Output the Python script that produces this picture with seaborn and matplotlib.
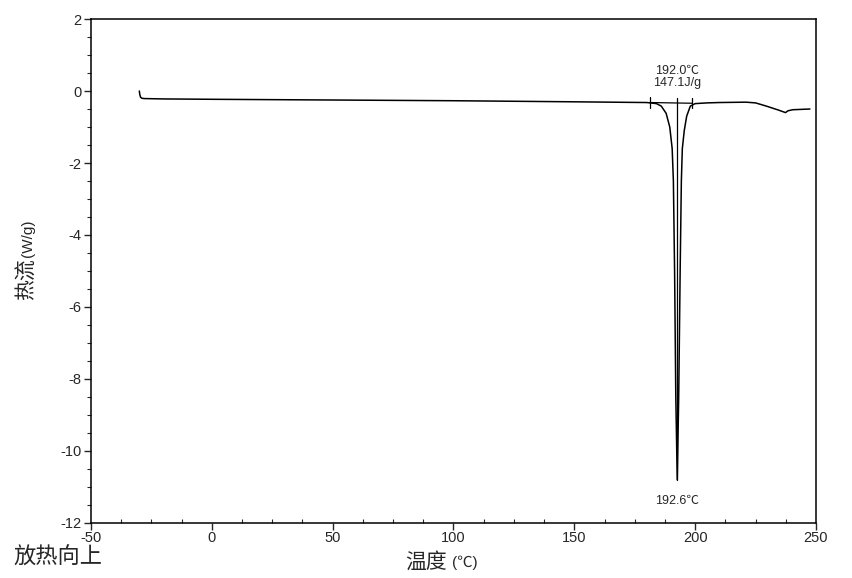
import matplotlib
matplotlib.use("Agg")
import matplotlib.pyplot as plt
from matplotlib.ticker import MultipleLocator
import seaborn as sns

# DSC curve (temperature in C, heat flow in W/g)
temp = [-30.0, -29.8, -29.5, -29.0, -28.0, -20.0, 0.0, 50.0, 100.0, 150.0,
        180.0, 184.0, 186.0, 188.0, 189.5, 190.5, 191.0, 191.5, 192.0, 192.6,
        193.2, 193.8, 194.3, 194.7, 195.5, 196.5, 198.0, 200.0, 205.0, 210.0,
        221.0, 225.0, 229.5, 234.5, 237.4, 238.4, 240.4, 247.5]
heat_flow = [0.0, -0.1, -0.17, -0.2, -0.21, -0.22, -0.23, -0.25, -0.27, -0.3,
             -0.32, -0.35, -0.42, -0.62, -1.0, -1.6, -2.5, -5.0, -8.5, -10.8,
             -8.5, -5.0, -2.5, -1.6, -1.1, -0.7, -0.42, -0.35, -0.33, -0.32,
             -0.31, -0.33, -0.42, -0.53, -0.6, -0.55, -0.52, -0.5]

onset_label = ["192.0℃", "147.1J/g"]
peak_temp = 192.6
peak_value = -10.8
limits = [181.3, 198.8]
limit_base = [-0.32, -0.34]

sns.set_style("ticks")
plt.rcParams["font.family"] = ["Liberation Sans", "Noto Sans CJK SC", "DejaVu Sans"]
plt.rcParams["axes.unicode_minus"] = False

fig = plt.figure(figsize=(8.52, 5.78), dpi=100)
ax = fig.add_axes([0.1068, 0.0952, 0.8509, 0.8719])

sns.lineplot(x=temp, y=heat_flow, color="black", lw=1.1, sort=False,
             estimator=None, ax=ax)

# integration limits, baseline and peak marker
for xl, yl in zip(limits, limit_base):
    ax.plot([xl, xl], [yl + 0.14, yl - 0.14], color="black", lw=0.9)
ax.plot(limits, limit_base, color="black", lw=0.9)
ax.plot([peak_temp, peak_temp], [-0.2, peak_value], color="black", lw=0.9)

ax.text(peak_temp, 0.05, "\n".join(onset_label), ha="center", va="bottom",
        fontsize=9, linespacing=1.0)
ax.text(peak_temp, peak_value - 0.6, f"{peak_temp}℃", ha="center", va="center",
        fontsize=9)

ax.set_xlim(-50, 250)
ax.set_ylim(-12, 2)
ax.xaxis.set_major_locator(MultipleLocator(50))
ax.xaxis.set_minor_locator(MultipleLocator(12.5))
ax.yaxis.set_major_locator(MultipleLocator(2))
ax.yaxis.set_minor_locator(MultipleLocator(0.5))
ax.tick_params(axis="x", which="major", direction="out", length=5, width=1,
               labelsize=10.5, pad=1)
ax.tick_params(axis="x", which="minor", direction="in", length=3, width=0.8)
ax.tick_params(axis="y", which="major", direction="out", length=5, width=1,
               labelsize=10.5, pad=2)
ax.tick_params(axis="y", which="minor", direction="out", length=3, width=0.8)
for s in ax.spines.values():
    s.set_linewidth(1.1)
    s.set_color("black")

# axis titles: CJK part larger than the unit part, as in the source
fig.text(0.032, 0.481, "热流", rotation=90, ha="center", va="bottom", fontsize=15)
fig.text(0.033, 0.555, "(W/g)", rotation=90, ha="center", va="bottom", fontsize=11)
fig.text(0.475, 0.028, "温度", ha="left", va="center", fontsize=15)
fig.text(0.531, 0.026, "(℃)", ha="left", va="center", fontsize=11)
fig.text(0.016, 0.025, "放热向上", fontsize=16)

fig.savefig("out.png", dpi=100)
